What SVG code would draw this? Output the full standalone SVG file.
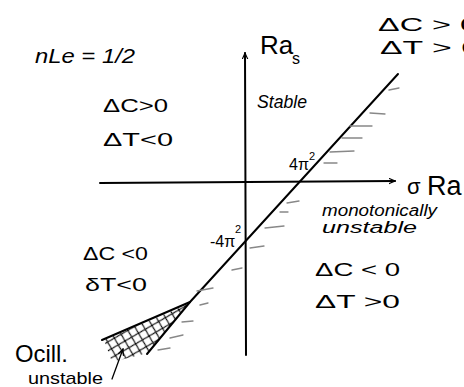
<svg xmlns="http://www.w3.org/2000/svg" width="464" height="387" viewBox="0 0 464 387">
<defs>
<style>
.ink{stroke:#000;stroke-width:2;fill:none;stroke-linecap:round;stroke-linejoin:round}
.thin{stroke:#000;stroke-width:1.3;fill:none;stroke-linecap:round}
.tick{stroke:#888;stroke-width:1.3;fill:none;stroke-linecap:round}
text{font-family:"Liberation Sans","DejaVu Sans",sans-serif;fill:#000}
.hw{font-size:19px}
.it{font-style:italic}
</style>
<marker id="ah" viewBox="0 0 10 10" refX="9" refY="5" markerWidth="7" markerHeight="7" orient="auto-start-reverse" markerUnits="userSpaceOnUse">
<path d="M0,1 L9,5 L0,9" fill="none" stroke="#000" stroke-width="1.6"/>
</marker>
<pattern id="hatch" patternUnits="userSpaceOnUse" width="11" height="11" patternTransform="rotate(15)">
<path d="M0,0 L11,11 M11,0 L0,11 M-5.5,5.5 L5.5,16.5 M5.5,-5.5 L16.5,5.5" stroke="#000" stroke-width="1.1"/>
</pattern>
</defs>
<rect width="464" height="387" fill="#fff"/>

<g id="axes">
<line class="ink" x1="100" y1="183" x2="395" y2="181" marker-end="url(#ah)"/>
<line class="ink" x1="246" y1="355" x2="245" y2="53" marker-end="url(#ah)"/>
</g>

<g id="connectors">
<path class="ink" d="M398,74 L190,302 L147,354"/>
<path class="ink" d="M190,302 L102,340"/>
<polygon points="188,304 104,340 112,362 148,353" fill="url(#hatch)" stroke="none"/>
<line class="thin" x1="112" y1="379" x2="123" y2="349" marker-end="url(#ah)"/>
</g>

<g id="boundary-ticks">
<path class="tick" d="M389,90 L399,88 M370,113 L385,114 M350,126 L372,126 M342,138 L362,138 M330,152 L354,151 M324,163 L337,163 M287,203 L299,201 M280,212 L288,212 M265,228 L284,226 M250,248 L264,246 M232,270 L242,268 M197,291 L213,288 M200,305 L208,303 M182,322 L193,321 M170,338 L183,335 M158,350 L170,348"/>
</g>

<g id="label-nle"><text x="35" y="63" class="it" font-size="21" textLength="100" lengthAdjust="spacingAndGlyphs">nLe = 1/2</text></g>
<g id="region-upper-left">
<text x="103" y="112" class="hw" textLength="65" lengthAdjust="spacingAndGlyphs">ΔC&gt;0</text>
<text x="103" y="146" class="hw" textLength="70" lengthAdjust="spacingAndGlyphs">ΔT&lt;0</text>
</g>
<g id="region-upper-right">
<text x="378" y="31" font-size="19" textLength="100" lengthAdjust="spacingAndGlyphs">ΔC &gt; 0</text>
<text x="380" y="54" font-size="19" textLength="100" lengthAdjust="spacingAndGlyphs">ΔT &gt; 0</text>
</g>
<g id="label-ras">
<text x="260" y="54" font-size="26">Ra</text>
<text x="292" y="64" font-size="16">s</text>
</g>
<g id="label-stable"><text x="257" y="108" class="hw it" textLength="50" lengthAdjust="spacingAndGlyphs">Stable</text></g>
<g id="label-4pi2">
<text x="289" y="170" font-size="16">4π</text>
<text x="309" y="160" font-size="11">2</text>
</g>
<g id="label-neg4pi2">
<text x="210" y="247" font-size="16">-4π</text>
<text x="235" y="233" font-size="11">2</text>
</g>
<g id="label-sigma-ra">
<text x="407" y="194" font-size="22">σ</text>
<text x="427" y="195" font-size="27">Ra</text>
</g>
<g id="label-monotonic">
<text x="322" y="216" font-size="16" class="it" textLength="115" lengthAdjust="spacingAndGlyphs">monotonically</text>
<text x="322" y="233" font-size="16" class="it" textLength="95" lengthAdjust="spacingAndGlyphs">unstable</text>
</g>
<g id="region-lower-right">
<text x="315" y="276" class="hw" textLength="85" lengthAdjust="spacingAndGlyphs">ΔC &lt; 0</text>
<text x="315" y="308" class="hw" textLength="85" lengthAdjust="spacingAndGlyphs">ΔT &gt;0</text>
</g>
<g id="region-lower-left">
<text x="83" y="260" class="hw" textLength="65" lengthAdjust="spacingAndGlyphs">ΔC &lt;0</text>
<text x="85" y="291" class="hw" textLength="62" lengthAdjust="spacingAndGlyphs">δT&lt;0</text>
</g>
<g id="label-ocill">
<text x="15" y="362" font-size="24" textLength="53" lengthAdjust="spacingAndGlyphs">Ocill.</text>
<text x="28" y="384" font-size="17" textLength="75" lengthAdjust="spacingAndGlyphs">unstable</text>
</g>
</svg>
